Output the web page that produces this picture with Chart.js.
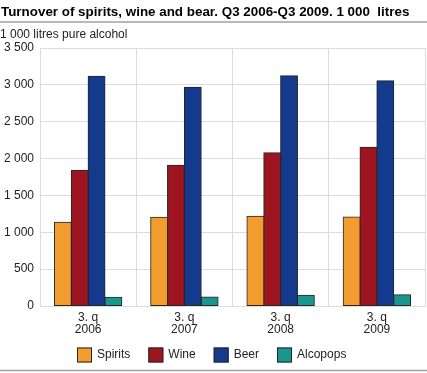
<!DOCTYPE html>
<html>
<head>
<meta charset="utf-8">
<script src="https://cdn.jsdelivr.net/npm/chart.js@4"></script>
<style>
html,body{margin:0;padding:0;background:#fff;}
#wrap{position:relative;width:427px;height:373px;}
</style>
</head>
<body>
<div id="wrap"><canvas id="c" width="427" height="373"></canvas></div>
<script>
const titleText = "Turnover of spirits, wine and bear. Q3 2006-Q3 2009. 1 000  litres";
const yAxisTitle = "1 000 litres pure alcohol";
const categories = [["3. q","2006"],["3. q","2007"],["3. q","2008"],["3. q","2009"]];
const spirits = [1135, 1203, 1217, 1207];
const wine = [1841, 1909, 2080, 2153];
const beer = [3116, 2967, 3124, 3057];
const alcopops = [118, 122, 145, 153];
const seriesNames = ["Spirits","Wine","Beer","Alcopops"];
const seriesColors = ["#f39c2f","#9c1520","#133a8c","#18968f"];
const yTicks = [0,500,1000,1500,2000,2500,3000,3500];

const fontFam = "Arial, 'Liberation Sans', Helvetica, sans-serif";

const headerPlugin = {
  id: 'header',
  afterDraw(chart){
    const ctx = chart.ctx;
    ctx.save();
    ctx.fillStyle = '#000';
    ctx.font = "bold 13.4px " + fontFam;
    ctx.textBaseline = 'middle';
    ctx.textAlign = 'left';
    ctx.fillText(titleText, 1, 12);
    ctx.strokeStyle = '#a0a0a0';
    ctx.lineWidth = 1.5;
    ctx.beginPath(); ctx.moveTo(0, 22); ctx.lineTo(427, 22); ctx.stroke();
    ctx.beginPath(); ctx.moveTo(0, 370.5); ctx.lineTo(427, 370.5); ctx.stroke();
    ctx.font = "12px " + fontFam;
    ctx.fillStyle = '#222';
    ctx.fillText(yAxisTitle, 0, 35);
    ctx.restore();
  }
};

// legend drawn from the chart's own datasets
const legendPlugin = {
  id: 'customLegend',
  afterDraw(chart){
    const ctx = chart.ctx;
    ctx.save();
    ctx.font = "12px " + fontFam;
    ctx.textBaseline = 'middle';
    ctx.textAlign = 'left';
    const box = 15, textGap = 5, itemGap = 18, cy = 355;
    const items = chart.data.datasets.map(ds => ({
      label: ds.label, color: ds.backgroundColor,
      w: box + textGap + ctx.measureText(ds.label).width
    }));
    const total = items.reduce((a,it)=>a+it.w,0) + itemGap*(items.length-1);
    let x = Math.round(chart.width/2 - total/2) - 2;
    items.forEach(it => {
      ctx.fillStyle = it.color;
      ctx.fillRect(x, cy - box/2, box, box);
      ctx.strokeStyle = '#262626';
      ctx.lineWidth = 1;
      ctx.strokeRect(x + 0.5, cy - box/2 + 0.5, box - 1, box - 1);
      ctx.fillStyle = '#222';
      ctx.fillText(it.label, x + box + textGap, cy);
      x += it.w + itemGap;
    });
    ctx.restore();
  }
};

const datasets = [spirits, wine, beer, alcopops].map((d,i)=>({
  label: seriesNames[i],
  data: d,
  backgroundColor: seriesColors[i],
  borderColor: '#262626',
  borderWidth: 1,
  borderSkipped: false,
  inflateAmount: 0.5,
  categoryPercentage: 0.7,
  barPercentage: 1.0
}));

new Chart(document.getElementById('c'), {
  type: 'bar',
  data: { labels: categories, datasets },
  options: {
    responsive: false,
    animation: false,
    devicePixelRatio: 1,
    layout: { padding: { top: 48, right: 2, bottom: 40, left: 0 } },
    plugins: {
      legend: { display: false },
      tooltip: { enabled: false },
      title: { display: false }
    },
    scales: {
      x: {
        offset: true,
        grid: { offset: true, color: '#dcdcdc', lineWidth: 1, drawTicks: false },
        border: { color: '#dcdcdc' },
        ticks: { color: '#222', font: { size: 12, family: fontFam, lineHeight: 1.0 }, padding: 6, maxRotation: 0 },
        afterFit(s){ s.height = 27; }
      },
      y: {
        min: 0, max: 3500,
        afterBuildTicks(s){ s.ticks = yTicks.map(v=>({value:v})); },
        grid: { color: '#dcdcdc', lineWidth: 1, drawTicks: false },
        border: { color: '#dcdcdc' },
        ticks: {
          color: '#222', font: { size: 12, family: fontFam }, padding: 6,
          callback: v => String(v).replace(/\B(?=(\d{3})+(?!\d))/g, ' ')
        },
        afterFit(s){ s.width = 40; }
      }
    }
  },
  plugins: [headerPlugin, legendPlugin]
});
</script>
</body>
</html>
